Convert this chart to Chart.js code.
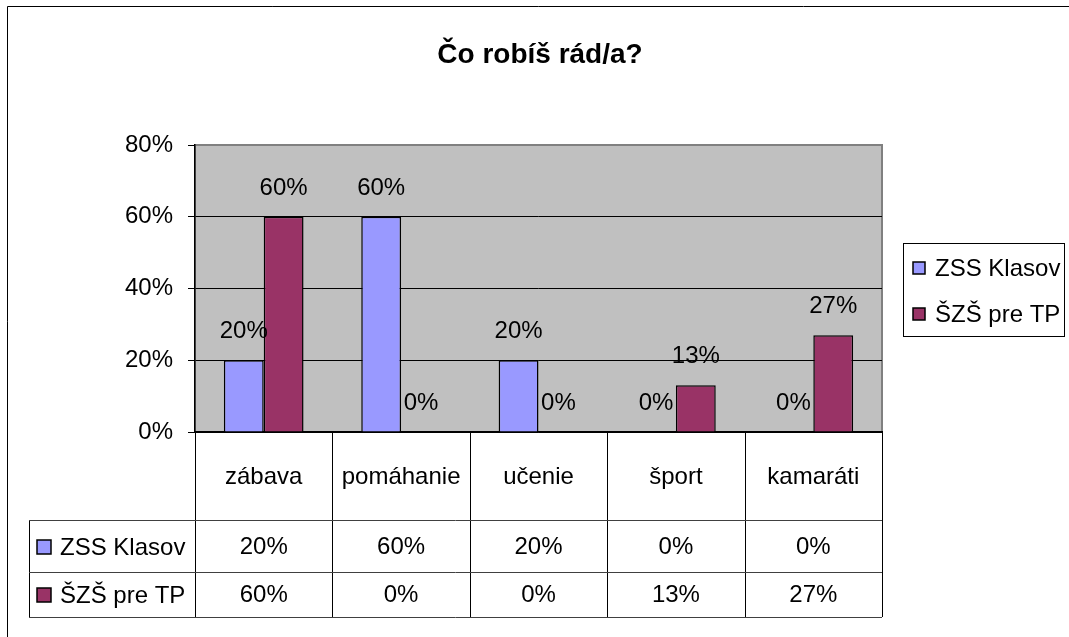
<!DOCTYPE html>
<html>
<head>
    <title>Čo robíš rád/a?</title>
    <script src="https://cdn.jsdelivr.net/npm/chart.js"></script>
    <style>
        body { margin: 0; background: #fff; }
        #wrap { width: 1069px; height: 637px; position: relative; }
    </style>
</head>
<body>
<div id="wrap"><canvas id="chart"></canvas></div>

<script>
const titleText = 'Čo robíš rád/a?';
const categories = ['zábava', 'pomáhanie', 'učenie', 'šport', 'kamaráti'];
const seriesNames = ['ZSS Klasov', 'ŠZŠ pre TP'];
const zssKlasov = [20, 60, 20, 0, 0];
const szsPreTp = [60, 0, 0, 13, 27];
const yTicks = [0, 20, 40, 60, 80];

const colors = ['#9999FF', '#993366'];
const FONT = '"Liberation Sans", Arial, sans-serif';

// draws background frame, plot fill, data labels, legend and the data table
const excelPlugin = {
    id: 'excelLook',
    beforeDraw(chart) {
        const ctx = chart.ctx;
        const a = chart.chartArea;
        ctx.save();
        ctx.fillStyle = '#fff';
        ctx.fillRect(0, 0, chart.width, chart.height);
        // outer chart frame (only top and left are visible)
        ctx.strokeStyle = '#000';
        ctx.lineWidth = 1;
        ctx.beginPath();
        ctx.moveTo(7.5, chart.height);
        ctx.lineTo(7.5, 6.5);
        ctx.lineTo(chart.width, 6.5);
        ctx.stroke();
        // plot area
        ctx.fillStyle = '#C0C0C0';
        ctx.fillRect(a.left, a.top, a.right - a.left, a.bottom - a.top);
        ctx.strokeStyle = '#808080';
        ctx.lineWidth = 2;
        ctx.strokeRect(a.left, a.top, a.right - a.left, a.bottom - a.top);
        ctx.restore();
    },
    afterDraw(chart) {
        const ctx = chart.ctx;
        const a = chart.chartArea;
        const xs = chart.scales.x;
        const allData = [zssKlasov, szsPreTp];
        ctx.save();

        // title
        ctx.fillStyle = '#000';
        ctx.font = 'bold 28px ' + FONT;
        ctx.textAlign = 'center';
        ctx.textBaseline = 'alphabetic';
        ctx.fillText(titleText, 540, 63);

        // data labels above bars
        ctx.font = '24px ' + FONT;
        allData.forEach((arr, d) => {
            const meta = chart.getDatasetMeta(d);
            meta.data.forEach((bar, i) => {
                ctx.fillText(arr[i] + '%', bar.x, bar.y - 22);
            });
        });

        // data table
        const colW = (a.right - a.left) / categories.length;
        const rowTop = a.bottom, headBottom = 520, row1Bottom = 572, tableBottom = 617;
        const tableLeft = 29;
        ctx.strokeStyle = '#000';
        ctx.lineWidth = 1;
        ctx.beginPath();
        for (let i = 0; i <= categories.length; i++) {
            const x = Math.round(a.left + i * colW) + 0.5;
            ctx.moveTo(x, rowTop);
            ctx.lineTo(x, tableBottom);
        }
        ctx.moveTo(tableLeft + 0.5, headBottom);
        ctx.lineTo(tableLeft + 0.5, tableBottom);
        ctx.stroke();
        ctx.strokeStyle = '#404040';
        ctx.beginPath();
        [headBottom, row1Bottom, tableBottom].forEach(y => {
            ctx.moveTo(tableLeft, y + 0.5);
            ctx.lineTo(a.right, y + 0.5);
        });
        ctx.stroke();

        ctx.fillStyle = '#000';
        ctx.textBaseline = 'middle';
        ctx.textAlign = 'center';
        categories.forEach((c, i) => {
            ctx.fillText(c, xs.getPixelForValue(i), 477);
        });
        const rowMid = [547, 595];
        allData.forEach((arr, d) => {
            arr.forEach((v, i) => {
                ctx.fillText(v + '%', xs.getPixelForValue(i), rowMid[d]);
            });
        });
        // row headers
        ctx.textAlign = 'left';
        seriesNames.forEach((name, d) => {
            ctx.fillStyle = colors[d];
            ctx.fillRect(37, rowMid[d] - 7, 14, 14);
            ctx.strokeStyle = '#000';
            ctx.lineWidth = 1.5;
            ctx.strokeRect(37, rowMid[d] - 7, 14, 14);
            ctx.fillStyle = '#000';
            ctx.fillText(name, 60, rowMid[d] + 1);
        });

        // legend
        ctx.strokeStyle = '#000';
        ctx.lineWidth = 1;
        ctx.strokeRect(903.5, 243.5, 161, 93);
        const legY = [268, 314];
        seriesNames.forEach((name, d) => {
            ctx.fillStyle = colors[d];
            ctx.fillRect(913, legY[d] - 6, 12, 12);
            ctx.strokeStyle = '#000';
            ctx.lineWidth = 1.5;
            ctx.strokeRect(913, legY[d] - 6, 12, 12);
            ctx.fillStyle = '#000';
            ctx.fillText(name, 935, legY[d] + 1);
        });
        ctx.restore();
    }
};

new Chart(document.getElementById('chart'), {
    type: 'bar',
    data: {
        labels: categories,
        datasets: [
            {
                label: seriesNames[0],
                data: zssKlasov,
                backgroundColor: colors[0],
                borderColor: '#000',
                borderWidth: 1.5,
                categoryPercentage: 0.58,
                barPercentage: 1.0
            },
            {
                label: seriesNames[1],
                data: szsPreTp,
                backgroundColor: colors[1],
                borderColor: '#000',
                borderWidth: 1.5,
                categoryPercentage: 0.58,
                barPercentage: 1.0
            }
        ]
    },
    options: {
        responsive: true,
        maintainAspectRatio: false,
        animation: false,
        layout: {
            padding: { left: 0, right: 187, top: 145, bottom: 205 }
        },
        plugins: {
            legend: { display: false },
            title: { display: false },
            tooltip: { enabled: false }
        },
        scales: {
            x: {
                grid: { display: false },
                ticks: { display: false },
                border: { color: '#000', width: 1.5 },
                afterFit(scale) { scale.height = 0; }
            },
            y: {
                min: 0,
                max: 80,
                afterBuildTicks(scale) {
                    scale.ticks = yTicks.map(v => ({ value: v }));
                },
                afterFit(scale) { scale.width = 195; },
                ticks: {
                    padding: 15,
                    color: '#000',
                    font: { family: FONT, size: 24 },
                    callback: v => v + '%'
                },
                grid: {
                    color: c => (c.tick && c.tick.value === 80) ? '#808080' : '#000',
                    tickColor: '#000',
                    tickLength: 7,
                    lineWidth: 1
                },
                border: { color: '#000', width: 1.5 }
            }
        }
    },
    plugins: [excelPlugin]
});
</script>
</body>
</html>
